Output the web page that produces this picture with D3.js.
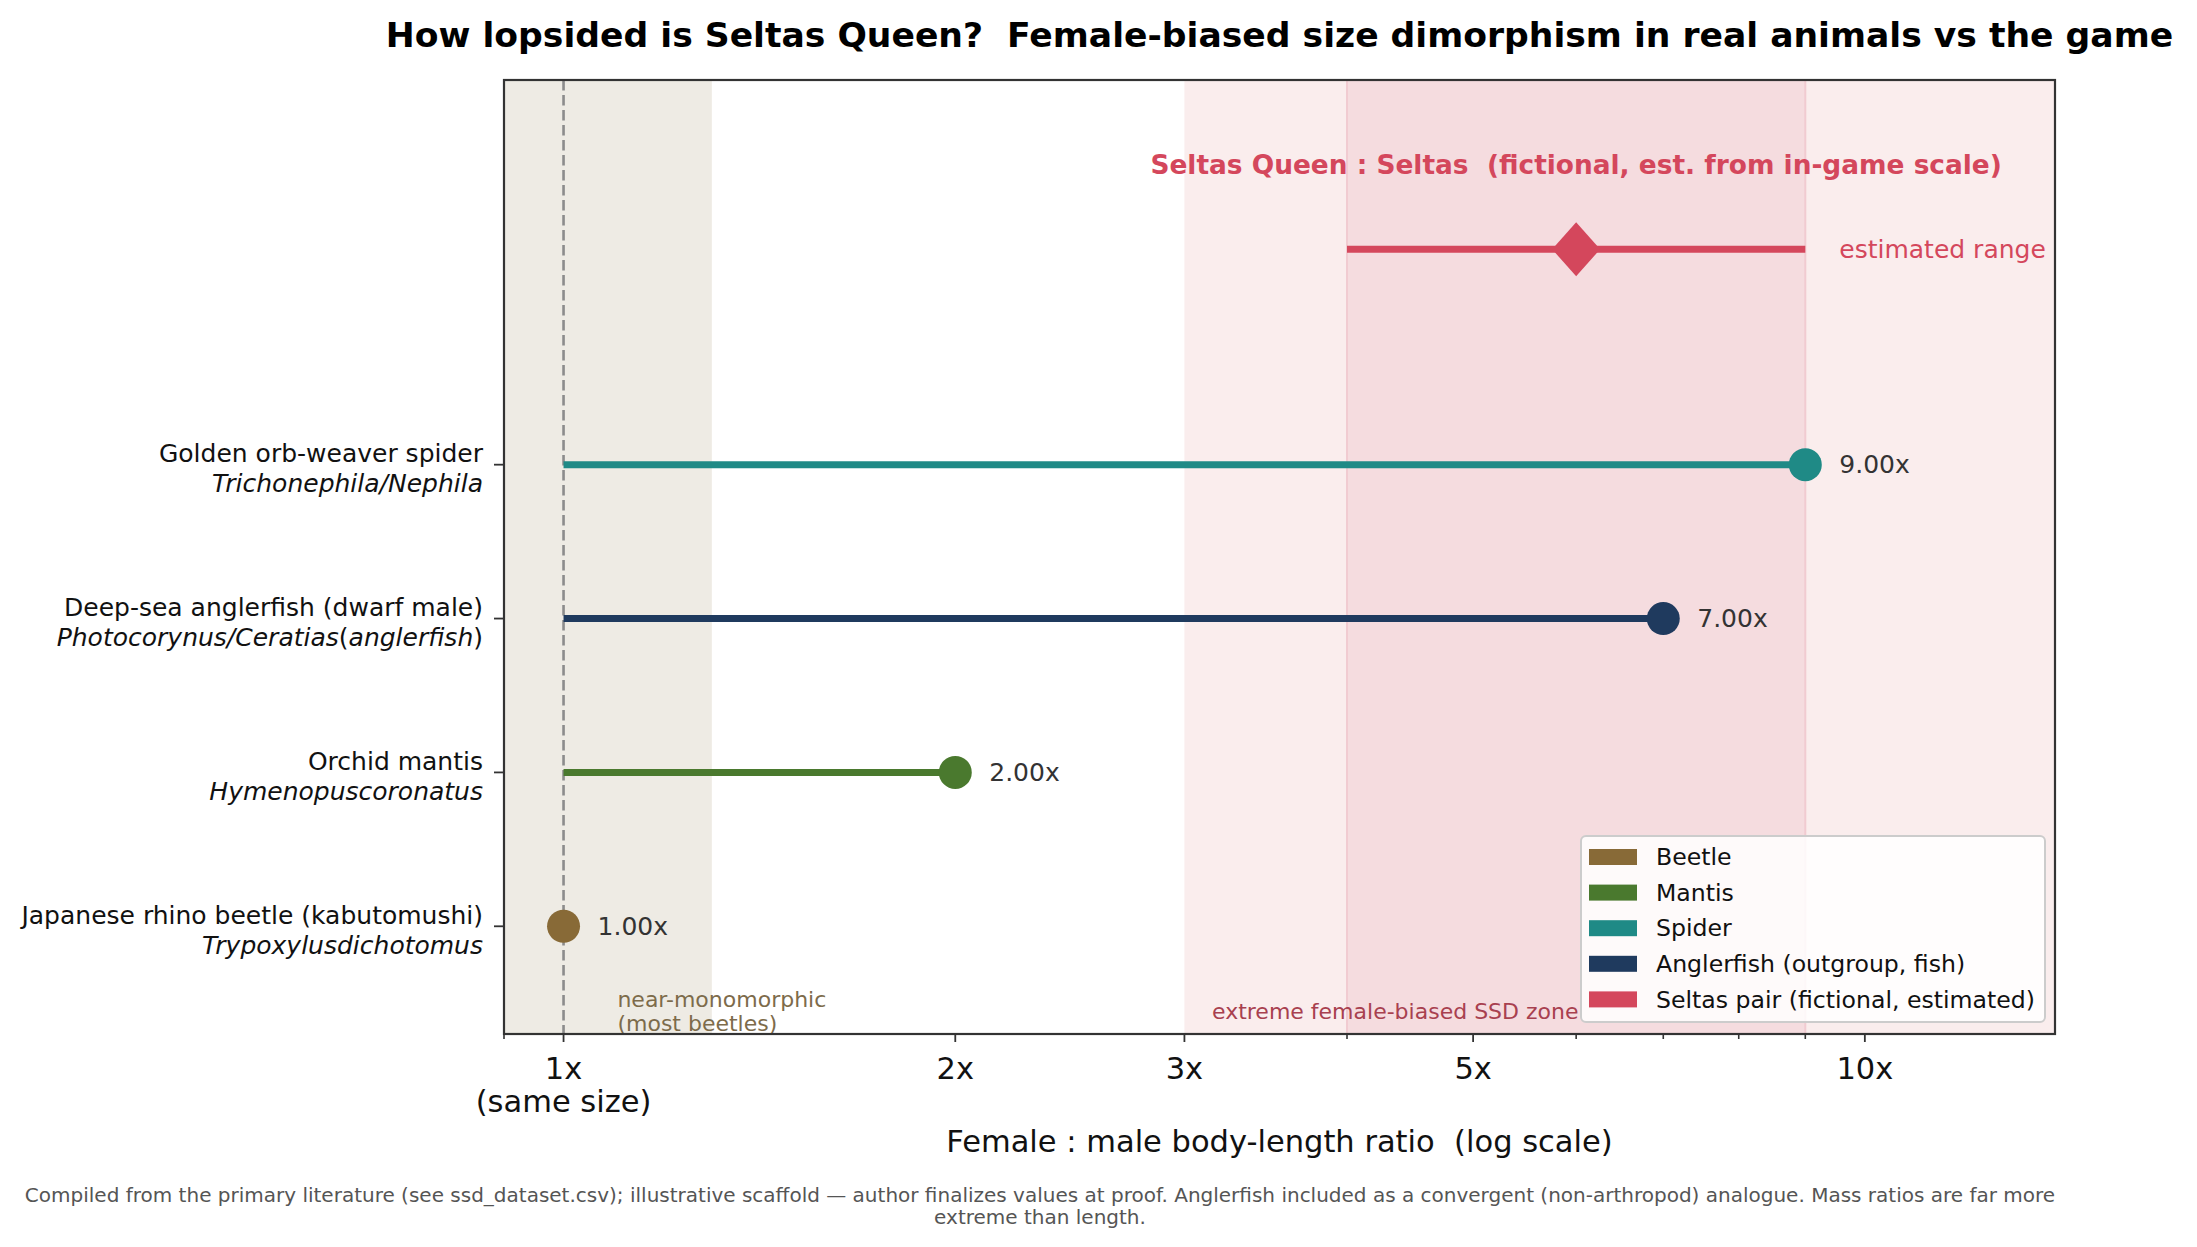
<!DOCTYPE html>
<html>
<head>
<meta charset="utf-8">
<script src="https://cdn.jsdelivr.net/npm/d3@7"></script>
<style>
  body { margin: 0; background: #fff; }
  svg { display: block; font-family: "DejaVu Sans", sans-serif; }
  svg text { white-space: pre; }
</style>
</head>
<body>
<div id="chart"></div>
<script>
// data
const speciesNames = ["Japanese rhino beetle (kabutomushi)", "Orchid mantis", "Deep-sea anglerfish (dwarf male)", "Golden orb-weaver spider"]
const latinNames = [
    [["Trypoxylusdichotomus", true]],
    [["Hymenopuscoronatus", true]],
    [["Photocorynus/Ceratias", true], ["(", false], ["anglerfish", true], [")", false]],
    [["Trichonephila/Nephila", true]]
]
const ratios = [1.0, 2.0, 7.0, 9.0]
const rowColors = ["#886a37", "#4a792e", "#1f3a5e", "#1f8a86"]

const seltasRange = [4, 9]
const seltasEstimate = 6

const legendLabels = ["Beetle", "Mantis", "Spider", "Anglerfish (outgroup, fish)", "Seltas pair (fictional, estimated)"]
const legendColors = ["#886a37", "#4a792e", "#1f8a86", "#1f3a5e", "#d4475c"]

const majorTicks = [1, 2, 3, 5, 10]
const majorLabels = [["1x", "(same size)"], ["2x"], ["3x"], ["5x"], ["10x"]]
const minorTicks = [0.9, 4, 6, 7, 8, 9]

const monoZone = [0.8, 1.3]
const extremeZone = [3, 20]

const footnote = [
    "Compiled from the primary literature (see ssd_dataset.csv); illustrative scaffold \u2014 author finalizes values at proof. Anglerfish included as a convergent (non-arthropod) analogue. Mass ratios are far more",
    "extreme than length."
]

const W = 2197, H = 1247
const margin = { left: 504, right: W - 2055, top: 80, bottom: H - 1034 }
const width = W - margin.left - margin.right
const height = H - margin.top - margin.bottom
const RED = "#d4475c"

const svg = d3.select("#chart")
    .append("svg")
    .attr("width", W)
    .attr("height", H)

svg.append("rect").attr("width", W).attr("height", H).attr("fill", "#fff")

const g = svg.append("g")
    .attr("transform", `translate(${margin.left}, ${margin.top})`)

const x = d3.scaleLog().domain([0.9, 14]).range([0, width])
const y = d3.scaleLinear().domain([-0.7, 5.5]).range([height, 0])

const clip = g.append("defs").append("clipPath").attr("id", "plot-clip")
clip.append("rect").attr("width", width).attr("height", height)
const plot = g.append("g").attr("clip-path", "url(#plot-clip)")

/* BANDS */
plot.append("rect")
    .attr("x", x(monoZone[0])).attr("width", x(monoZone[1]) - x(monoZone[0]))
    .attr("y", 0).attr("height", height)
    .attr("fill", "#eeebe4")

plot.append("rect")
    .attr("x", x(extremeZone[0])).attr("width", x(extremeZone[1]) - x(extremeZone[0]))
    .attr("y", 0).attr("height", height)
    .attr("fill", "#faeded")

plot.append("rect")
    .attr("x", x(seltasRange[0])).attr("width", x(seltasRange[1]) - x(seltasRange[0]))
    .attr("y", -5).attr("height", height + 10)
    .attr("fill", "#f5dcdf")
    .attr("stroke", "#f1cbd1")
    .attr("stroke-width", 2)

/* reference line at 1x */
plot.append("line")
    .attr("x1", x(1)).attr("x2", x(1))
    .attr("y1", 0).attr("y2", height)
    .attr("stroke", "#8c8c8c")
    .attr("stroke-width", 2.6)
    .attr("stroke-dasharray", "10.5,4.5")

/* zone annotations */
const mono = plot.append("text")
    .attr("x", x(1.1))
    .attr("fill", "#7d6b4b")
    .style("font-size", "22px")
mono.append("tspan").attr("x", x(1.1)).attr("y", y(-0.43) + 15).text("near-monomorphic")
mono.append("tspan").attr("x", x(1.1)).attr("y", y(-0.58) + 15).text("(most beetles)")

plot.append("text")
    .attr("x", x(3.15))
    .attr("y", y(-0.55))
    .attr("dy", "0.35em")
    .attr("fill", "#a8404f")
    .style("font-size", "22px")
    .text("extreme female-biased SSD zone")

/* ROWS */
const rows = speciesNames.map((name, i) => ({ name, latin: latinNames[i], value: ratios[i], color: rowColors[i], i }))

plot.selectAll(".row-line")
    .data(rows)
    .enter()
    .append("line")
    .attr("class", "row-line")
    .attr("x1", x(1))
    .attr("x2", d => x(d.value))
    .attr("y1", d => y(d.i))
    .attr("y2", d => y(d.i))
    .attr("stroke", d => d.color)
    .attr("stroke-width", 7)

plot.selectAll(".row-dot")
    .data(rows)
    .enter()
    .append("circle")
    .attr("class", "row-dot")
    .attr("cx", d => x(d.value))
    .attr("cy", d => y(d.i))
    .attr("r", 16.5)
    .attr("fill", d => d.color)

plot.selectAll(".row-value")
    .data(rows)
    .enter()
    .append("text")
    .attr("class", "row-value")
    .attr("x", d => x(d.value) + 34)
    .attr("y", d => y(d.i))
    .attr("dy", "0.35em")
    .attr("fill", "#333")
    .style("font-size", "25px")
    .text(d => d.value.toFixed(2) + "x")

/* SELTAS */
const sy = y(4.4)
plot.append("line")
    .attr("x1", x(seltasRange[0])).attr("x2", x(seltasRange[1]))
    .attr("y1", sy).attr("y2", sy)
    .attr("stroke", RED)
    .attr("stroke-width", 7)

const dx = x(seltasEstimate)
plot.append("path")
    .attr("d", `M${dx},${sy - 27} L${dx + 24},${sy} L${dx},${sy + 27} L${dx - 24},${sy} Z`)
    .attr("fill", RED)

plot.append("text")
    .attr("x", x(seltasRange[1]) + 34)
    .attr("y", sy)
    .attr("dy", "0.35em")
    .attr("fill", RED)
    .style("font-size", "25px")
    .text("estimated range")

g.append("text")
    .attr("x", x(seltasEstimate))
    .attr("y", y(4.95))
    .attr("dy", "0.35em")
    .attr("text-anchor", "middle")
    .attr("fill", RED)
    .style("font-size", "26.4px")
    .style("font-weight", "bold")
    .text("Seltas Queen : Seltas  (fictional, est. from in-game scale)")

/* LEGEND */
const lg = g.append("g").attr("transform", `translate(${1581 - margin.left}, ${836 - margin.top})`)
lg.append("rect")
    .attr("width", 464).attr("height", 186)
    .attr("rx", 5)
    .attr("fill", "#fff").attr("fill-opacity", 0.85)
    .attr("stroke", "#cccccc").attr("stroke-width", 2)
const items = lg.selectAll(".legend-item")
    .data(legendLabels)
    .enter()
    .append("g")
    .attr("class", "legend-item")
    .attr("transform", (d, i) => `translate(8, ${21 + i * 35.6})`)
items.append("rect")
    .attr("y", -8).attr("width", 48).attr("height", 16)
    .attr("fill", (d, i) => legendColors[i])
items.append("text")
    .attr("x", 67)
    .attr("dy", "0.35em")
    .attr("fill", "#111")
    .style("font-size", "23.6px")
    .text(d => d)

/* AXES */
g.append("rect")
    .attr("width", width).attr("height", height)
    .attr("fill", "none")
    .attr("stroke", "#333")
    .attr("stroke-width", 2.2)

const xAxis = g.append("g").attr("transform", `translate(0, ${height})`)
xAxis.selectAll(".minor")
    .data(minorTicks)
    .enter()
    .append("line")
    .attr("x1", d => x(d)).attr("x2", d => x(d))
    .attr("y1", 0).attr("y2", 5)
    .attr("stroke", "#333").attr("stroke-width", 1.6)
const major = xAxis.selectAll(".major")
    .data(majorTicks)
    .enter()
    .append("g")
    .attr("transform", d => `translate(${x(d)}, 0)`)
major.append("line")
    .attr("y2", 8)
    .attr("stroke", "#333").attr("stroke-width", 1.8)
major.append("text")
    .attr("text-anchor", "middle")
    .attr("fill", "#111")
    .style("font-size", "30.5px")
    .selectAll("tspan")
    .data((d, i) => majorLabels[i])
    .enter()
    .append("tspan")
    .attr("x", 0)
    .attr("y", (d, i) => 34 + i * 33)
    .attr("dy", "0.35em")
    .text(d => d)

const yAxis = g.append("g")
const yTick = yAxis.selectAll(".ytick")
    .data(rows)
    .enter()
    .append("g")
    .attr("transform", d => `translate(0, ${y(d.i)})`)
yTick.append("line")
    .attr("x1", -10).attr("x2", 0)
    .attr("stroke", "#333").attr("stroke-width", 1.8)
yTick.append("text")
    .attr("x", -21).attr("y", -11)
    .attr("dy", "0.35em")
    .attr("text-anchor", "end")
    .attr("fill", "#111")
    .style("font-size", "25px")
    .text(d => d.name)
const latinText = yTick.append("text")
    .attr("x", -21).attr("y", 19)
    .attr("dy", "0.35em")
    .attr("text-anchor", "end")
    .attr("fill", "#111")
    .style("font-size", "25px")
latinText.selectAll("tspan")
    .data(d => d.latin)
    .enter()
    .append("tspan")
    .style("font-style", d => d[1] ? "italic" : "normal")
    .text(d => d[0])

/* TITLES */
svg.append("text")
    .attr("x", margin.left + width / 2)
    .attr("y", 35)
    .attr("dy", "0.35em")
    .attr("text-anchor", "middle")
    .attr("fill", "#000")
    .style("font-size", "34.6px")
    .style("font-weight", "bold")
    .text("How lopsided is Seltas Queen?  Female-biased size dimorphism in real animals vs the game")

svg.append("text")
    .attr("x", margin.left + width / 2)
    .attr("y", 1141)
    .attr("dy", "0.35em")
    .attr("text-anchor", "middle")
    .attr("fill", "#111")
    .style("font-size", "30.5px")
    .text("Female : male body-length ratio  (log scale)")

svg.append("text")
    .attr("text-anchor", "middle")
    .attr("fill", "#555")
    .style("font-size", "20px")
    .selectAll("tspan")
    .data(footnote)
    .enter()
    .append("tspan")
    .attr("x", 1040)
    .attr("y", (d, i) => 1195 + i * 22)
    .attr("dy", "0.35em")
    .text(d => d)
</script>
</body>
</html>
